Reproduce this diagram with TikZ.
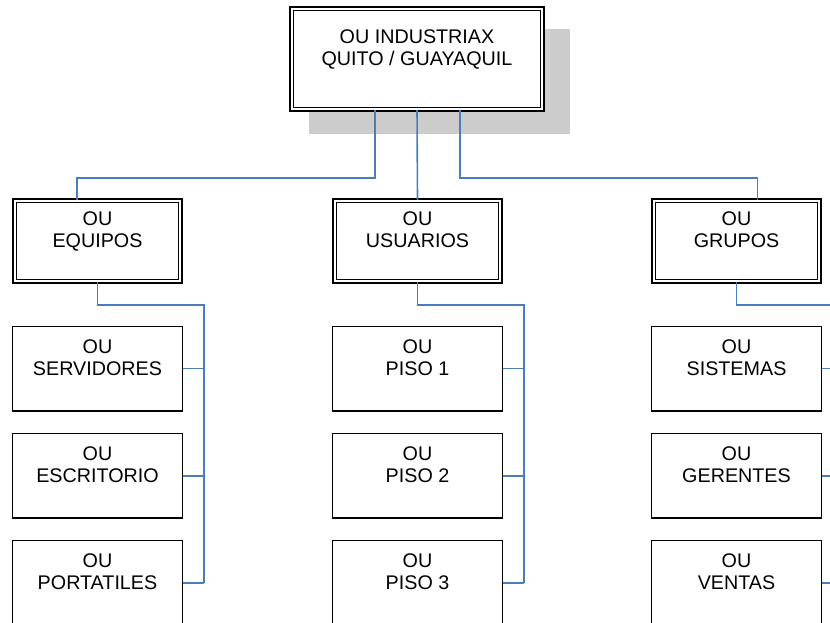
\documentclass[tikz,border=0pt]{standalone}
\usepackage{fontspec}
\setmainfont{Liberation Sans}
\usetikzlibrary{positioning,shadows}
\definecolor{linkblue}{HTML}{4A7EBB}
\definecolor{shadowgray}{HTML}{CCCCCC}

\tikzset{
  oubox/.style={
    draw=black,
    fill=white,
    line width=1.1pt,
    align=center,
    inner sep=0pt,
    font=\fontsize{14.8pt}{16.8pt}\selectfont,
    minimum width=127.3pt,
    minimum height=63.5pt
  },
  oudouble/.style={
    oubox,
    double,
    double distance=1.5pt,
    line width=1.2pt,
    minimum width=124.3pt,
    minimum height=60.6pt
  },
  ouroot/.style={
    oudouble,
    minimum width=188.1pt,
    minimum height=75.6pt,
    drop shadow={shadow xshift=16pt, shadow yshift=-16pt, shadow scale=1.04,
      fill=shadowgray, opacity=1}
  },
  oulink/.style={draw=linkblue, line width=1.2pt}
}

\begin{document}
\begin{tikzpicture}[x=0.75pt, y=-0.75pt]
\clip (0,0) rectangle (830,623);
\fill[white] (0,0) rectangle (830,623);

\node[ouroot] (root) at (417,59) {OU INDUSTRIAX\\QUITO / GUAYAQUIL\\~};

\node[oudouble] (equipos) at (97.5,241) {OU\\EQUIPOS\\~};
\node[oudouble] (usuarios) at (417.5,241) {OU\\USUARIOS\\~};
\node[oudouble] (grupos) at (736.5,241) {OU\\GRUPOS\\~};

\node[oubox, below=32.5pt of equipos] (servidores) {OU\\SERVIDORES\\~};
\node[oubox, below=15.75pt of servidores] (escritorio) {OU\\ESCRITORIO\\~};
\node[oubox, below=15.75pt of escritorio] (portatiles) {OU\\PORTATILES\\~};

\node[oubox, below=32.5pt of usuarios] (piso1) {OU\\PISO 1\\~};
\node[oubox, below=15.75pt of piso1] (piso2) {OU\\PISO 2\\~};
\node[oubox, below=15.75pt of piso2] (piso3) {OU\\PISO 3\\~};

\node[oubox, below=32.5pt of grupos] (sistemas) {OU\\SISTEMAS\\~};
\node[oubox, below=15.75pt of sistemas] (gerentes) {OU\\GERENTES\\~};
\node[oubox, below=15.75pt of gerentes] (ventas) {OU\\VENTAS\\~};

% links from the root
\coordinate (rootbus) at (0,178);
\coordinate (rootleft) at ([xshift=-31.5pt]root.south);
\coordinate (rootright) at ([xshift=32.25pt]root.south);
\draw[oulink] (rootleft) -- (rootleft |- rootbus) -| ([xshift=-15.4pt]equipos.north);
\draw[oulink] (root.south) -- (usuarios.north);
\draw[oulink] (rootright) -- (rootright |- rootbus) -| ([xshift=15.75pt]grupos.north);

% links to the leaves
\foreach \oupar/\oua/\oub/\ouc in {equipos/servidores/escritorio/portatiles,
    usuarios/piso1/piso2/piso3, grupos/sistemas/gerentes/ventas} {
  \draw[oulink] (\oupar.south) -- ++(0,23) -| ([xshift=15.75pt]\ouc.east);
  \foreach \ouleaf in {\oua,\oub,\ouc}
    \draw[oulink] (\ouleaf.east) -- ++(15.75pt,0);
}
\end{tikzpicture}
\end{document}
